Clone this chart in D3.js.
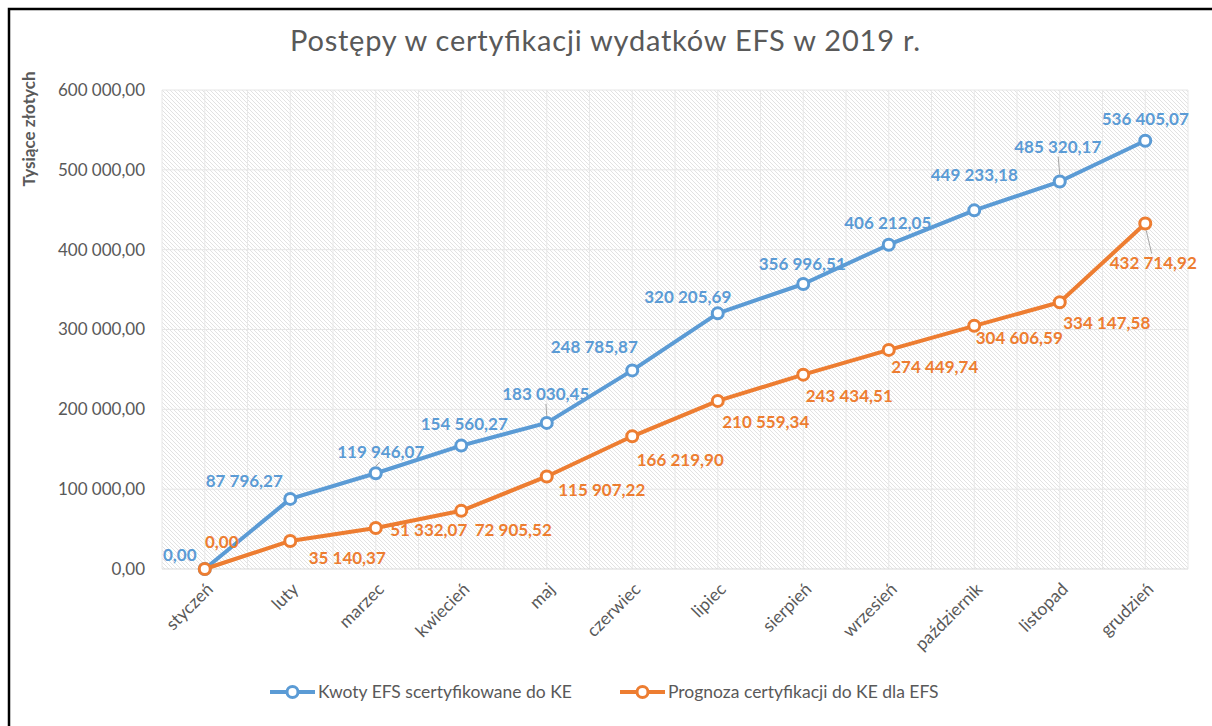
<!DOCTYPE html>
<html>
<head>
<meta charset="utf-8">
<script src="https://cdn.jsdelivr.net/npm/d3@7.9.0/dist/d3.min.js"></script>
<style>
  body { margin: 0; background: #fff; }
  svg { display: block; font-family: Lato, "Open Sans", sans-serif; }
</style>
</head>
<body>
<div id="chart"></div>
<script>
const months = ['styczeń', 'luty', 'marzec', 'kwiecień', 'maj', 'czerwiec', 'lipiec',
  'sierpień', 'wrzesień', 'październik', 'listopad', 'grudzień'];
const certified = [0, 87796.27, 119946.07, 154560.27, 183030.45, 248785.87, 320205.69,
  356996.51, 406212.05, 449233.18, 485320.17, 536405.07];
const forecast = [0, 35140.37, 51332.07, 72905.52, 115907.22, 166219.90, 210559.34,
  243434.51, 274449.74, 304606.59, 334147.58, 432714.92];
const yTicks = [0, 100000, 200000, 300000, 400000, 500000, 600000];
const seriesNames = ['Kwoty EFS scertyfikowane do KE', 'Prognoza certyfikacji do KE dla EFS'];

// hand-placed label offsets (dx, dy from the marker), like in the original sheet
const certifiedLabelPos = [[-25, -14], [-46, -18], [5, -21, 1], [3, -22], [-1, -29, 1], [-38, -23],
  [-30, -16], [-1, -20], [-1, -22], [0, -35], [-2, -35, 1], [0, -22]];
const forecastLabelPos = [[17, -27], [57, 17], [53, 2], [52, 19], [55, 14], [48, 24],
  [48, 21], [46, 21], [46, 17], [45, 12], [47, 21], [8, 40, 1]];

const width = 1212;
const height = 726;
const margin = { top: 90, right: 24, bottom: 157, left: 162 };

const pl = d3.formatLocale({ decimal: ',', thousands: '\u00a0', grouping: [3], currency: ['', ''] });
const fmt = pl.format(',.2f');

const svg = d3.select('#chart').append('svg')
  .attr('width', width)
  .attr('height', height);

const defs = svg.append('defs');
const pat = defs.append('pattern')
  .attr('id', 'hatch')
  .attr('patternUnits', 'userSpaceOnUse')
  .attr('width', 4)
  .attr('height', 4);
pat.append('rect').attr('width', 4).attr('height', 4).attr('fill', '#fff');
pat.append('path')
  .attr('d', 'M-1,-1 L5,5 M-1,3 L1,5 M3,-1 L5,1')
  .attr('stroke', '#e2e2e2')
  .attr('stroke-width', 1);

// frame
svg.append('rect')
  .attr('x', 9).attr('y', 9)
  .attr('width', width).attr('height', height)
  .attr('fill', 'none')
  .attr('stroke', '#000')
  .attr('stroke-width', 2.5);

const x = d3.scaleBand()
  .domain(months)
  .range([margin.left, width - margin.right]);

const y = d3.scaleLinear()
  .domain([0, 600000])
  .range([height - margin.bottom, margin.top]);

const cx = d => x(d) + x.bandwidth() / 2;

// plot area
svg.append('rect')
  .attr('x', margin.left)
  .attr('y', margin.top)
  .attr('width', x.range()[1] - margin.left)
  .attr('height', y(0) - margin.top)
  .attr('fill', 'url(#hatch)');

// vertical grid: band edges and centres
const vlines = months.flatMap(m => [x(m), cx(m)]).concat([x.range()[1]]);
svg.append('g')
  .selectAll('line')
  .data(vlines)
  .join('line')
  .attr('x1', d => d).attr('x2', d => d)
  .attr('y1', margin.top).attr('y2', y(0))
  .attr('stroke', '#e8e8e8')
  .attr('stroke-width', 1);

svg.append('g')
  .selectAll('line')
  .data(yTicks)
  .join('line')
  .attr('x1', margin.left).attr('x2', x.range()[1])
  .attr('y1', d => y(d)).attr('y2', d => y(d))
  .attr('stroke', d => d === 0 ? '#d9d9d9' : '#e6e6e6')
  .attr('stroke-width', 1);

// y axis
const yAxis = svg.append('g')
  .attr('transform', `translate(${margin.left}, 0)`)
  .call(d3.axisLeft(y).tickValues(yTicks).tickFormat(fmt).tickSize(0).tickPadding(17));
yAxis.select('.domain').remove();
yAxis.selectAll('text')
  .attr('fill', '#595959')
  .style('font-size', '17px')
  .style('font-family', 'Lato, sans-serif');

// x axis
const xAxis = svg.append('g')
  .attr('transform', `translate(0, ${y(0)})`)
  .call(d3.axisBottom(x).tickSize(0));
xAxis.select('.domain').remove();
xAxis.selectAll('text')
  .attr('fill', '#595959')
  .style('font-size', '17.5px')
  .style('font-family', 'Lato, sans-serif')
  .attr('text-anchor', 'end')
  .attr('dy', '0.35em')
  .attr('transform', 'translate(5, 17) rotate(-45)')
  .attr('y', 0)
  .attr('x', 0);

// titles
svg.append('text')
  .attr('x', 605)
  .attr('y', 51)
  .attr('text-anchor', 'middle')
  .attr('fill', '#595959')
  .style('font-size', '29px')
  .attr('textLength', 630)
  .attr('lengthAdjust', 'spacing')
  .text('Postępy w certyfikacji wydatków EFS w 2019 r.');

svg.append('text')
  .attr('transform', 'translate(35, 129) rotate(-90)')
  .attr('text-anchor', 'middle')
  .attr('fill', '#595959')
  .style('font-size', '17px')
  .style('font-weight', 'bold')
  .text('Tysiące złotych');

const series = [
  { name: seriesNames[0], values: certified, color: '#5B9BD5', labels: certifiedLabelPos },
  { name: seriesNames[1], values: forecast, color: '#ED7D31', labels: forecastLabelPos },
];

const line = d3.line()
  .x((d, i) => cx(months[i]))
  .y(d => y(d));

series.forEach(s => {
  const g = svg.append('g');
  g.append('path')
    .datum(s.values)
    .attr('d', line)
    .attr('fill', 'none')
    .attr('stroke', s.color)
    .attr('stroke-width', 4)
    .attr('stroke-linejoin', 'round');

  g.selectAll('circle')
    .data(s.values)
    .join('circle')
    .attr('cx', (d, i) => cx(months[i]))
    .attr('cy', d => y(d))
    .attr('r', 5.5)
    .attr('fill', '#fff')
    .attr('stroke', s.color)
    .attr('stroke-width', 3);
});

// data labels and leader lines
series.forEach(s => {
  const g = svg.append('g');
  s.values.forEach((v, i) => {
    const [dx, dy, leader] = s.labels[i];
    const px = cx(months[i]);
    const py = y(v);
    if (leader) {
      const dir = dy < 0 ? -1 : 1;
      g.append('line')
        .attr('x1', px + (dir > 0 ? 1 : 0)).attr('y1', py + dir * 7)
        .attr('x2', px + dx * 0.8).attr('y2', py + dy - dir * 10)
        .attr('stroke', '#a6a6a6')
        .attr('stroke-width', 1);
    }
    g.append('text')
      .attr('x', px + dx)
      .attr('y', py + dy)
      .attr('dy', '0.35em')
      .attr('text-anchor', 'middle')
      .attr('fill', s.color)
      .style('font-size', '17px')
      .style('font-weight', 'bold')
      .text(fmt(v));
  });
});

// legend
const legend = svg.append('g').attr('transform', 'translate(0, 692)');
const legendX = [270, 620];
series.forEach((s, i) => {
  const lg = legend.append('g').attr('transform', `translate(${legendX[i]}, 0)`);
  lg.append('line')
    .attr('x1', 0).attr('x2', 45)
    .attr('stroke', s.color)
    .attr('stroke-width', 4);
  lg.append('circle')
    .attr('cx', 22.5).attr('r', 5.5)
    .attr('fill', '#fff')
    .attr('stroke', s.color)
    .attr('stroke-width', 3);
  lg.append('text')
    .attr('x', 48)
    .attr('dy', '0.35em')
    .attr('fill', '#595959')
    .style('font-size', '17.5px')
    .text(s.name);
});
</script>
</body>
</html>
